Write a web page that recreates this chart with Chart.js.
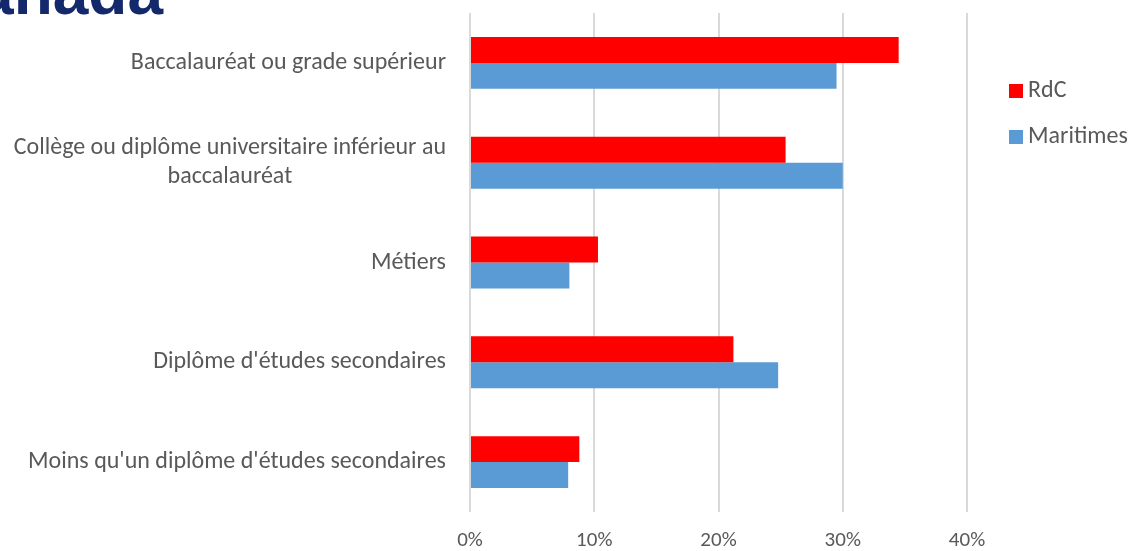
<!DOCTYPE html>
<html>
<head>
<meta charset="utf-8">
<script src="https://cdn.jsdelivr.net/npm/chart.js@4.4.1/dist/chart.umd.min.js"></script>
<style>
  html, body { margin: 0; padding: 0; background: #fff; }
  #wrap { position: relative; width: 1130px; height: 551px; overflow: hidden; }
  #logo { position: absolute; left: -237px; width: 400px; top: -40px; text-align: right;
          font: bold 64px "Liberation Sans", sans-serif; line-height: 64px; color: #14296b; }
</style>
</head>
<body>
<div id="wrap">
  <canvas id="barChart" width="1130" height="551"></canvas>
  <div id="logo">Canada</div>
</div>
<script>
// categories (top to bottom)
var categories = [
  ['Baccalauréat ou grade supérieur'],
  ['Collège ou diplôme universitaire inférieur au', 'baccalauréat'],
  ['Métiers'],
  ["Diplôme d'études secondaires"],
  ["Moins qu'un diplôme d'études secondaires"]
];
var rdc = [34.5, 25.4, 10.3, 21.2, 8.8];
var maritimes = [29.5, 30.0, 8.0, 24.8, 7.9];
var xTicks = [0, 10, 20, 30, 40];

var textColor = '#595959';
var fontFamily = 'Carlito, Lato, sans-serif';

// category labels (each line centred in its block) and the legend on the right
var extraText = {
  id: 'extraText',
  afterDraw: function(chart) {
    var ctx = chart.ctx;
    var y = chart.scales.y;
    ctx.save();
    ctx.font = '24px ' + fontFamily;
    ctx.fillStyle = textColor;
    ctx.textAlign = 'center';
    ctx.textBaseline = 'middle';
    var lh = 29;
    categories.forEach(function(lines, i) {
      var w = 0;
      lines.forEach(function(l) { w = Math.max(w, ctx.measureText(l).width); });
      var cx = y.right - 24 - w / 2;
      var cy = y.getPixelForValue(i) - (lines.length - 1) * lh / 2;
      lines.forEach(function(l, k) { ctx.fillText(l, cx, cy + k * lh); });
    });

    // legend
    ctx.textAlign = 'left';
    chart.data.datasets.forEach(function(ds, i) {
      var ly = 91 + i * 46;
      ctx.fillStyle = ds.backgroundColor;
      ctx.fillRect(1009, ly - 7, 14, 14);
      ctx.fillStyle = textColor;
      ctx.fillText(ds.label, 1028, ly);
    });
    ctx.restore();
  }
};

new Chart(document.getElementById('barChart'), {
  type: 'bar',
  data: {
    labels: categories.map(function(c) { return c.join(' '); }),
    datasets: [
      { label: 'RdC', data: rdc, backgroundColor: '#ff0000' },
      { label: 'Maritimes', data: maritimes, backgroundColor: '#5b9bd5' }
    ]
  },
  options: {
    indexAxis: 'y',
    responsive: false,
    animation: false,
    layout: { padding: { top: 13, right: 163, left: 0, bottom: 0 } },
    datasets: { bar: { categoryPercentage: 0.52, barPercentage: 1.0 } },
    scales: {
      x: {
        min: 0, max: 40,
        afterBuildTicks: function(scale) { scale.ticks = xTicks.map(function(v) { return { value: v }; }); },
        afterFit: function(scale) { scale.height = 39; },
        grid: { color: '#d9d9d9', lineWidth: 2, drawTicks: false },
        border: { display: false },
        ticks: {
          padding: 16, color: textColor, font: { size: 21, family: fontFamily },
          callback: function(v) { return v + '%'; }
        }
      },
      y: {
        grid: { display: false },
        border: { display: false },
        ticks: { display: false },
        afterFit: function(scale) { scale.width = 470; }
      }
    },
    plugins: {
      legend: { display: false },
      tooltip: { enabled: false }
    }
  },
  plugins: [extraText]
});
</script>
</body>
</html>
